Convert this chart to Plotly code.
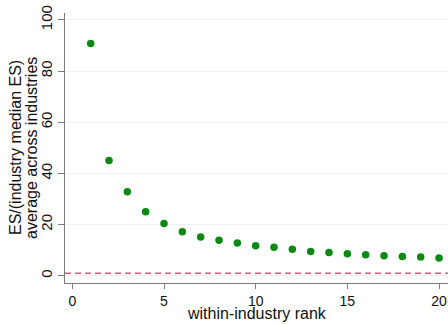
import plotly.graph_objects as go

# within-industry rank and the average ratio of ES to the industry median ES
rank = list(range(1, 21))
es_ratio = [90.8, 45.0, 32.8, 25.0, 20.4, 17.2, 15.1, 13.9, 12.8, 11.7,
            11.1, 10.3, 9.5, 9.1, 8.6, 8.2, 7.8, 7.5, 7.3, 6.9]
reference_level = 1.0

x_ticks = [0, 5, 10, 15, 20]
y_ticks = [0, 20, 40, 60, 80, 100]

font_family = "Liberation Sans, Arial, sans-serif"
axis_grey = "#7a7a7a"

fig = go.Figure()

fig.add_trace(go.Scatter(
    x=[-0.4, 20.5], y=[reference_level, reference_level],
    mode="lines",
    line=dict(color="#d4607f", width=1.5, dash="6px,4px"),
    hoverinfo="skip", showlegend=False,
))

fig.add_trace(go.Scatter(
    x=rank, y=es_ratio, mode="markers",
    marker=dict(color="#0a8a12", size=7.5, line=dict(width=0)),
    showlegend=False,
))

fig.update_layout(
    width=448, height=324,
    margin=dict(l=65, r=0, t=13, b=41),
    paper_bgcolor="white", plot_bgcolor="white",
    font=dict(family=font_family, size=15, color="#111111"),
    xaxis=dict(
        range=[-0.4, 20.49],
        tickmode="array", tickvals=x_ticks,
        showgrid=False, zeroline=False,
        showline=True, linecolor=axis_grey, linewidth=1.2,
        ticks="outside", ticklen=5, tickcolor=axis_grey, tickwidth=1.2,
        tickfont=dict(size=14),
    ),
    yaxis=dict(
        range=[-2.85, 102.7],
        tickmode="array", tickvals=y_ticks,
        tickangle=-90,
        showgrid=True, gridcolor="#edf2f3", gridwidth=1.2,
        zeroline=False,
        showline=True, linecolor=axis_grey, linewidth=1.2,
        ticks="outside", ticklen=6, tickcolor=axis_grey, tickwidth=1.2,
        tickfont=dict(size=15),
    ),
    annotations=[
        dict(text="within-industry rank",
             xref="paper", yref="paper", x=0.5, y=-0.1505,
             xanchor="center", yanchor="bottom", showarrow=False,
             font=dict(size=16)),
        dict(text="ES/(industry median ES)", textangle=-90,
             xref="paper", yref="paper", x=-0.1305, y=0.5,
             xanchor="center", yanchor="middle", showarrow=False,
             font=dict(size=16)),
        dict(text="average across industries", textangle=-90,
             xref="paper", yref="paper", x=-0.0888, y=0.5,
             xanchor="center", yanchor="middle", showarrow=False,
             font=dict(size=16)),
    ],
)

fig.write_html("out.html")
